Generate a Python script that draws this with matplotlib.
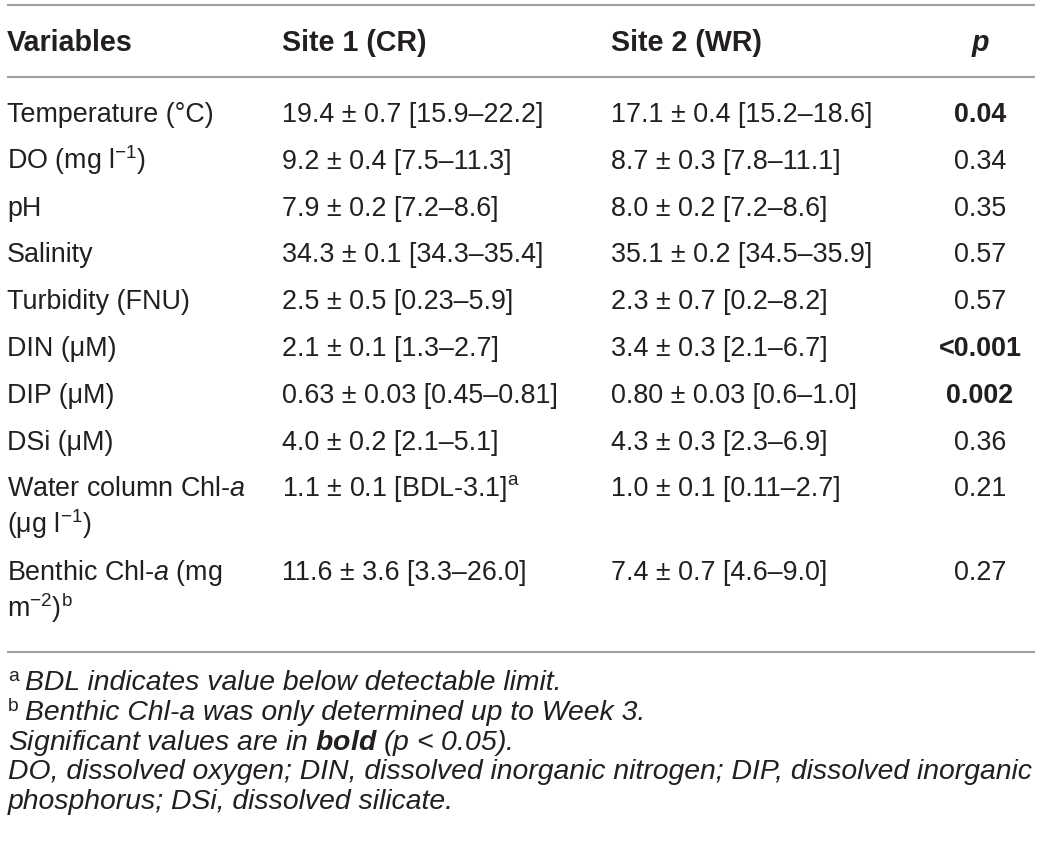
import matplotlib
matplotlib.use('Agg')
import matplotlib.pyplot as plt

plt.rcParams['font.family'] = ['Liberation Sans', 'DejaVu Sans']
plt.rcParams['mathtext.fontset'] = 'custom'
plt.rcParams['mathtext.rm'] = 'Liberation Sans'
plt.rcParams['mathtext.it'] = 'Liberation Sans:italic'
plt.rcParams['mathtext.bf'] = 'Liberation Sans:bold'
plt.rcParams['mathtext.bfit'] = 'Liberation Sans:italic:bold'
plt.rcParams['mathtext.default'] = 'regular'

# table content
header = ['Variables', 'Site 1 (CR)', 'Site 2 (WR)', 'p']
variables = [['Temperature (°C)'],
             ['DO (mg $l^{-1}$)'],
             ['pH'],
             ['Salinity'],
             ['Turbidity (FNU)'],
             ['DIN (μM)'],
             ['DIP (μM)'],
             ['DSi (μM)'],
             ['Water column Chl-$\\mathit{a}$', '(μg $l^{-1}$)'],
             ['Benthic Chl-$\\mathit{a}$ (mg', '$m^{-2}$)$^{\\mathrm{b}}$']]
site1 = ['19.4 ± 0.7 [15.9–22.2]', '9.2 ± 0.4 [7.5–11.3]', '7.9 ± 0.2 [7.2–8.6]',
         '34.3 ± 0.1 [34.3–35.4]', '2.5 ± 0.5 [0.23–5.9]', '2.1 ± 0.1 [1.3–2.7]',
         '0.63 ± 0.03 [0.45–0.81]', '4.0 ± 0.2 [2.1–5.1]', '1.1 ± 0.1 [BDL-3.1]$^{\\mathrm{a}}$',
         '11.6 ± 3.6 [3.3–26.0]']
site2 = ['17.1 ± 0.4 [15.2–18.6]', '8.7 ± 0.3 [7.8–11.1]', '8.0 ± 0.2 [7.2–8.6]',
         '35.1 ± 0.2 [34.5–35.9]', '2.3 ± 0.7 [0.2–8.2]', '3.4 ± 0.3 [2.1–6.7]',
         '0.80 ± 0.03 [0.6–1.0]', '4.3 ± 0.3 [2.3–6.9]', '1.0 ± 0.1 [0.11–2.7]',
         '7.4 ± 0.7 [4.6–9.0]']
p_values = ['0.04', '0.34', '0.35', '0.57', '0.57', '<0.001', '0.002', '0.36', '0.21', '0.27']
significant = [True, False, False, False, False, True, True, False, False, False]

footnote_marks = ['a', 'b', '', '', '']
footnotes = ['BDL indicates value below detectable limit.',
             'Benthic Chl-a was only determined up to Week 3.',
             'Significant values are in $\\mathbfit{bold}$ (p < 0.05).',
             'DO, dissolved oxygen; DIN, dissolved inorganic nitrogen; DIP, dissolved inorganic',
             'phosphorus; DSi, dissolved silicate.']

ink = '#231f20'
rule = '#a0a0a0'
fs = 19.4
head_fs = 20.6

fig = plt.figure(figsize=(10.41, 8.52), dpi=100)
ax = fig.add_axes([0, 0, 1, 1])
ax.set_xlim(0, 1041)
ax.set_ylim(852, 0)
ax.axis('off')

col_x = [7, 282, 611]
p_x = 980

# rules
for y in [5, 77, 652]:
    ax.plot([7, 1035], [y, y], color=rule, lw=1.5, solid_capstyle='butt')

# header
for x, h in zip(col_x, header[:3]):
    ax.text(x, 51, h, fontsize=head_fs, fontweight='bold', color=ink, va='baseline')
ax.text(p_x, 51, header[3], fontsize=head_fs, fontweight='bold', fontstyle='italic',
        color=ink, va='baseline', ha='center')

# body rows
y = 122
step = 46.8
sub_step = 37
for var, s1, s2, p, sig in zip(variables, site1, site2, p_values, significant):
    for k, line in enumerate(var):
        ax.text(col_x[0], y + k * sub_step, line, fontsize=fs, color=ink, va='baseline')
    ax.text(col_x[1], y, s1, fontsize=fs, color=ink, va='baseline')
    ax.text(col_x[2], y, s2, fontsize=fs, color=ink, va='baseline')
    ax.text(p_x, y, p, fontsize=fs, color=ink, va='baseline', ha='center',
            fontweight='bold' if sig else 'normal')
    y += step + (len(var) - 1) * sub_step

# footnotes, size fitted to the widest line
renderer = fig.canvas.get_renderer()
probe = ax.text(0, 0, footnotes[3], fontsize=16, fontstyle='italic')
w = probe.get_window_extent(renderer).width
probe.remove()
fn_fs = 16 * 1026 / w
fy = 690
for mark, line in zip(footnote_marks, footnotes):
    x0 = 8
    if mark:
        ax.text(8, fy - 9, mark, fontsize=fn_fs * 0.68, color=ink, va='baseline')
        x0 = 25
    ax.text(x0, fy, line, fontsize=fn_fs, fontstyle='italic', color=ink, va='baseline')
    fy += 29.8

fig.savefig('out.png', dpi=100)
